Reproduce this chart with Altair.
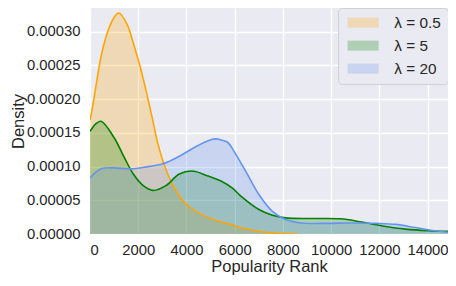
import altair as alt
import pandas as pd

series_labels = ["λ = 0.5", "λ = 5", "λ = 20"]
series_colors = ["orange", "green", "cornflowerblue"]

# Density values are given in units of 1e-5
x_05 = [0, 54, 188, 458, 727, 996, 1199, 1535, 1804, 2073, 2343, 2612, 2814, 3150,
        3486, 3958, 4632, 5303, 5909, 6220, 7027, 7835, 8600]
y_05 = [16.9, 17.8, 20.6, 26.3, 29.9, 32.1, 32.75, 31.1, 28.2, 24.9, 21.0, 16.7, 13.4,
        9.57, 6.93, 4.55, 2.87, 1.91, 1.33, 0.96, 0.38, 0.10, 0.02]

x_5 = [0, 230, 458, 996, 1400, 1804, 2208, 2612, 3150, 3689, 4228, 4899, 5412, 5909,
       6220, 7027, 7565, 8106, 9182, 10393, 11200, 12144, 13085, 14027, 14903]
y_5 = [15.2, 16.3, 16.7, 14.3, 11.5, 8.85, 7.17, 6.46, 7.17, 8.85, 9.33, 8.6, 7.9, 6.79,
       5.74, 3.59, 2.78, 2.39, 2.3, 2.25, 1.82, 1.19, 0.72, 0.48, 0.38]

x_20 = [0, 458, 996, 1669, 2343, 3016, 3689, 4362, 5036, 5238, 5412, 5707, 5950, 6490,
        7027, 7565, 8106, 8776, 9855, 10796, 11874, 12682, 13490, 14297, 14903]
y_20 = [8.3, 9.66, 9.8, 9.66, 9.95, 10.4, 11.5, 12.9, 14.0, 14.1, 13.96, 13.6, 12.4, 9.1,
        5.74, 3.35, 2.15, 1.63, 1.58, 1.63, 1.58, 1.43, 0.96, 0.48, 0.24]

x_ticks = [0, 2000, 4000, 6000, 8000, 10000, 12000, 14000]
y_ticks = [0, 0.00005, 0.0001, 0.00015, 0.0002, 0.00025, 0.0003]

rows = []
for lab, xs, ys in zip(series_labels, [x_05, x_5, x_20], [y_05, y_5, y_20]):
    for xv, yv in zip(xs, ys):
        rows.append({"series": lab, "x": xv, "density": yv * 1e-5})
df = pd.DataFrame(rows)

TXT = "#262626"
FONT = "Liberation Sans"
INTERP = "catmull-rom"

xenc = alt.X("x:Q", scale=alt.Scale(domain=[0, 14850], nice=False, zero=False),
             axis=alt.Axis(values=x_ticks, format="d", title="Popularity Rank",
                           labelPadding=8, titlePadding=2))
yenc = alt.Y("density:Q", stack=None,
             scale=alt.Scale(domain=[0, 0.000335], nice=False),
             axis=alt.Axis(values=y_ticks, format=".5f", title="Density",
                           labelPadding=10, titlePadding=0))
cscale = alt.Scale(domain=series_labels, range=series_colors)

base = alt.Chart(df)
area = base.mark_area(fillOpacity=0.25, clip=True, interpolate=INTERP).encode(
    x=xenc, y=yenc,
    color=alt.Color("series:N", scale=cscale, sort=series_labels,
                    legend=alt.Legend(title=None, orient="none", legendX=248, legendY=0,
                                      padding=7, fillColor="#EAEAF2", strokeColor="#d0d0d8",
                                      cornerRadius=4, labelFontSize=15.3, labelColor=TXT,
                                      labelFont=FONT, rowPadding=7,
                                      symbolType="M-1,-1H5.2V1H-1Z", symbolSize=100,
                                      symbolOpacity=0.25, symbolStrokeWidth=0,
                                      labelOffset=34)),
)
line = base.mark_line(strokeWidth=1.6, clip=True, interpolate=INTERP).encode(
    x=xenc, y=yenc,
    color=alt.Color("series:N", scale=cscale, sort=series_labels, legend=None),
)

chart = alt.layer(area, line).properties(
    width=358, height=226,
    autosize=alt.AutoSizeParams(type="none"),
    padding={"left": 82, "top": 0, "right": 0, "bottom": 44},
).configure(
    font=FONT
).configure_view(
    fill="#EAEAF2", strokeWidth=0
).configure_axis(
    domain=False, ticks=False, grid=True, gridColor="white", gridWidth=1.3,
    labelFont=FONT, titleFont=FONT, labelFontSize=14.8, titleFontSize=16.5,
    labelColor=TXT, titleColor=TXT, titleFontWeight="normal",
)

chart.save("out.html", embed_options={"renderer": "svg", "actions": False})
